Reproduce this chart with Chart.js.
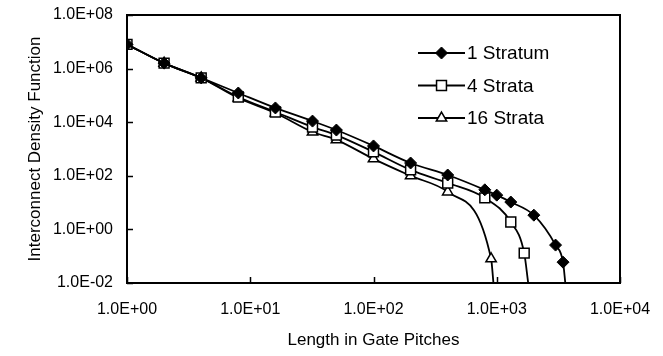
<!DOCTYPE html>
<html>
<head>
<meta charset="utf-8">
<script src="https://cdn.jsdelivr.net/npm/chart.js@4.4.1/dist/chart.umd.min.js"></script>
<style>
  html, body { margin: 0; padding: 0; background: #fff; }
  #wrap { width: 663px; height: 356px; }
</style>
</head>
<body>
<div id="wrap"><canvas id="densityChart" width="663" height="356"></canvas></div>
<script>
// values (last entry of each series = where the curve meets the axis)
const seriesNames = ['1 Stratum', '4 Strata', '16 Strata'];

const lengths1 = [1, 2, 4, 8, 16, 32, 50, 100, 200, 400, 800, 1000, 1300, 2000, 3000, 3450, 3600];
const density1 = [8e6, 1.6e6, 4.5e5, 1.23e5, 3.4e4, 1.1e4, 5.1e3, 1.3e3, 300, 107, 30, 19, 10.5, 3.4, 0.26, 0.06, 0.01];

const lengths4 = [1, 2, 4, 8, 16, 32, 50, 100, 200, 400, 800, 1300, 1670, 1800];
const density4 = [8e6, 1.6e6, 4.5e5, 8.7e4, 2.4e4, 6.6e3, 3.3e3, 780, 166, 54, 15, 1.9, 0.13, 0.01];

const lengths16 = [1, 2, 4, 8, 16, 32, 50, 100, 200, 400, 900, 940];
const density16 = [8e6, 1.6e6, 4.5e5, 8e4, 2.2e4, 4.3e3, 2.2e3, 430, 100, 25, 0.08, 0.01];

const xTickValues = [1, 10, 100, 1000, 10000];
const xTickLabels = ['1.0E+00', '1.0E+01', '1.0E+02', '1.0E+03', '1.0E+04'];
const yTickValues = [0.01, 1, 100, 1e4, 1e6, 1e8];
const yTickLabels = ['1.0E-02', '1.0E+00', '1.0E+02', '1.0E+04', '1.0E+06', '1.0E+08'];

function toPoints(xs, ys) {
  return xs.map((x, i) => ({ x: x, y: ys[i] }));
}
function radii(xs, r) {
  return xs.map((x, i) => (i === xs.length - 1 ? 0 : r));
}
// label overhang is handled by layout.padding instead
function noOverhang(scale) {
  scale.paddingLeft = 0;
  scale.paddingRight = 0;
  scale.paddingTop = 0;
  scale.paddingBottom = 0;
}

const FONT = "'Liberation Sans', Arial, sans-serif";

// frame around the plot area, with inward tick marks
const framePlugin = {
  id: 'frame',
  afterDraw(chart) {
    const a = chart.chartArea;
    const ctx = chart.ctx;
    const xs = chart.scales.x, ys = chart.scales.y;
    ctx.save();
    ctx.strokeStyle = '#000';
    ctx.lineWidth = 1.5;
    ctx.beginPath();
    xTickValues.forEach(v => {
      const px = Math.round(xs.getPixelForValue(v)) + 0.5;
      ctx.moveTo(px, a.bottom);
      ctx.lineTo(px, a.bottom - 6);
    });
    yTickValues.forEach(v => {
      const py = Math.round(ys.getPixelForValue(v)) + 0.5;
      ctx.moveTo(a.left, py);
      ctx.lineTo(a.left + 6, py);
    });
    ctx.stroke();
    ctx.lineWidth = 2;
    ctx.strokeRect(a.left, a.top, a.right - a.left, a.bottom - a.top);
    ctx.restore();
  }
};

// legend with line + marker, like the spreadsheet one
const lineLegendPlugin = {
  id: 'lineLegend',
  afterDraw(chart, args, opts) {
    const ctx = chart.ctx;
    ctx.save();
    chart.data.datasets.forEach((ds, i) => {
      const y = opts.y + i * opts.gap;
      ctx.strokeStyle = '#000';
      ctx.lineWidth = ds.borderWidth;
      ctx.beginPath();
      ctx.moveTo(opts.x, y);
      ctx.lineTo(opts.x + opts.lineLength, y);
      ctx.stroke();
      ctx.fillStyle = ds.pointBackgroundColor;
      ctx.lineWidth = ds.pointBorderWidth;
      Chart.helpers.drawPoint(ctx, {
        pointStyle: ds.pointStyle,
        radius: opts.radius[i],
        rotation: 0,
        borderWidth: ds.pointBorderWidth
      }, opts.x + opts.lineLength / 2, y);
      ctx.fillStyle = '#000';
      ctx.font = opts.fontSize + 'px ' + FONT;
      ctx.textBaseline = 'middle';
      ctx.textAlign = 'left';
      ctx.fillText(ds.label, opts.x + opts.lineLength + 2, y + 1);
    });
    ctx.restore();
  }
};

const ctx = document.getElementById('densityChart').getContext('2d');
const densityChart = new Chart(ctx, {
  type: 'line',
  data: {
    datasets: [{
      label: seriesNames[0],
      data: toPoints(lengths1, density1),
      borderColor: '#000',
      borderWidth: 1.8,
      pointStyle: 'rectRot',
      pointRadius: radii(lengths1, 6),
      pointBackgroundColor: '#000',
      pointBorderColor: '#000',
      pointBorderWidth: 1,
      cubicInterpolationMode: 'monotone'
    }, {
      label: seriesNames[1],
      data: toPoints(lengths4, density4),
      borderColor: '#000',
      borderWidth: 1.8,
      pointStyle: 'rect',
      pointRadius: radii(lengths4, 7),
      pointBackgroundColor: '#fff',
      pointBorderColor: '#000',
      pointBorderWidth: 1.5,
      cubicInterpolationMode: 'monotone'
    }, {
      label: seriesNames[2],
      data: toPoints(lengths16, density16),
      borderColor: '#000',
      borderWidth: 1.8,
      pointStyle: 'triangle',
      pointRadius: radii(lengths16, 6),
      pointBackgroundColor: '#fff',
      pointBorderColor: '#000',
      pointBorderWidth: 1.5,
      cubicInterpolationMode: 'monotone'
    }]
  },
  options: {
    responsive: false,
    devicePixelRatio: 1,
    animation: false,
    layout: {
      padding: { left: 0, right: 43, top: 15, bottom: 0 }
    },
    scales: {
      x: {
        type: 'logarithmic',
        min: 1,
        max: 10000,
        afterBuildTicks: scale => { scale.ticks = xTickValues.map(v => ({ value: v })); },
        afterFit: scale => { scale.height = 73; noOverhang(scale); },
        ticks: {
          autoSkip: false,
          maxRotation: 0,
          padding: 23,
          color: '#000',
          font: { family: FONT, size: 16 },
          callback: (value, index) => xTickLabels[index]
        },
        grid: { display: false, tickLength: -6 },
        border: { display: false },
        title: {
          display: true,
          text: 'Length in Gate Pitches',
          color: '#000',
          font: { family: FONT, size: 17 },
          padding: { top: 0, bottom: 5 }
        }
      },
      y: {
        type: 'logarithmic',
        min: 0.01,
        max: 1e8,
        afterBuildTicks: scale => { scale.ticks = yTickValues.map(v => ({ value: v })); },
        afterFit: scale => { scale.width = 127; noOverhang(scale); },
        ticks: {
          autoSkip: false,
          padding: 20,
          color: '#000',
          font: { family: FONT, size: 16 },
          callback: (value, index) => yTickLabels[index]
        },
        grid: { display: false, tickLength: -6 },
        border: { display: false },
        title: {
          display: true,
          text: 'Interconnect Density Function',
          color: '#000',
          font: { family: FONT, size: 17 },
          padding: { top: 25, bottom: 0 }
        }
      }
    },
    plugins: {
      legend: { display: false },
      tooltip: { enabled: false },
      lineLegend: {
        x: 418, y: 53, gap: 32.5, lineLength: 47,
        radius: [6, 7, 6], fontSize: 19
      }
    }
  },
  plugins: [framePlugin, lineLegendPlugin]
});
</script>
</body>
</html>
